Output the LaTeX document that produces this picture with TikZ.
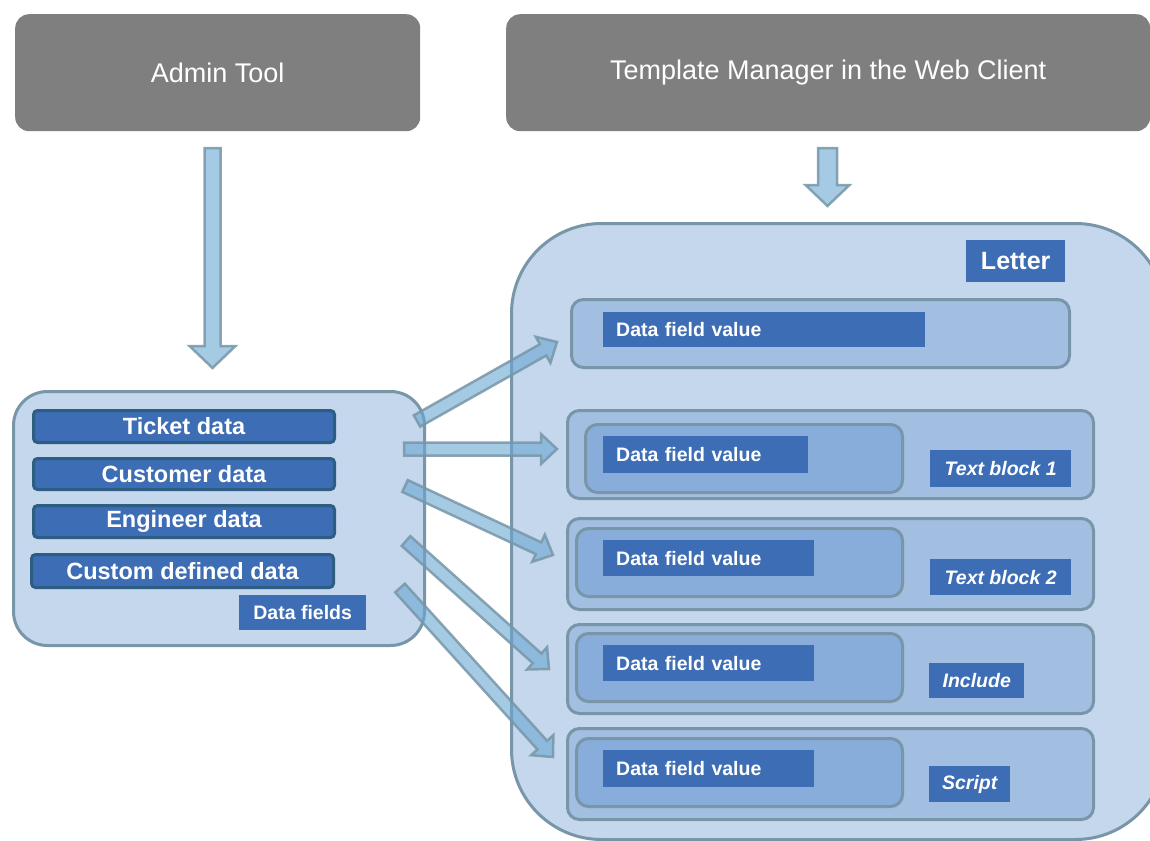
\documentclass[tikz,border=0pt]{standalone}
\usepackage{fontspec}
\setmainfont{Liberation Sans}
\usetikzlibrary{calc}

\definecolor{toolgray}{HTML}{7F7F7F}
\definecolor{panelblue}{HTML}{C5D7EC}
\definecolor{rowblue}{HTML}{A2BEE1}
\definecolor{cellblue}{HTML}{88ADDA}
\definecolor{barblue}{HTML}{3D6DB5}
\definecolor{baredge}{HTML}{2D5D82}
\definecolor{edgeslate}{HTML}{7896A8}
\definecolor{arrowblue}{HTML}{69A7D2}

% block arrow: tail, tip, half shaft, half head, head length
\newcommand{\fatarrow}[5]{%
  \coordinate (fa-base) at ($(#2)!#5!(#1)$);
  \draw[flowarrow] ($(#1)!#3!90:(#2)$) -- ($(fa-base)!#3!90:(#2)$) -- ($(fa-base)!#4!90:(#2)$)
    -- (#2) -- ($(fa-base)!#4!-90:(#2)$) -- ($(fa-base)!#3!-90:(#2)$) -- ($(#1)!#3!-90:(#2)$) -- cycle;
}

\begin{document}
\begin{tikzpicture}[
      x=1pt, y=-1pt,
      tool/.style={fill=toolgray, rounded corners=14pt, text=white, font=\fontsize{27}{32}\selectfont, anchor=north west, inner sep=0pt},
      panel/.style={draw=edgeslate, line width=3pt, fill=panelblue, anchor=north west, inner sep=0pt},
      row/.style={draw=edgeslate, line width=3pt, fill=rowblue, rounded corners=12pt, anchor=north west, minimum width=526pt, inner sep=0pt},
      cell/.style={draw=edgeslate, line width=3pt, fill=cellblue, rounded corners=12pt, anchor=north west, minimum height=68pt, inner sep=0pt},
      databar/.style={draw=baredge, line width=3pt, fill=barblue, rounded corners=4pt, text=white, font=\bfseries\fontsize{23.5}{27}\selectfont, minimum width=301pt, minimum height=32pt, anchor=north west, inner sep=0pt},
      tag/.style={fill=barblue, text=white, font=\bfseries\fontsize{19.5}{23}\selectfont, anchor=north west, inner sep=0pt},
      dfv/.style={tag, text width=#1, align=left, inner xsep=13pt, minimum height=36pt},
      kind/.style={tag, font=\bfseries\itshape\fontsize{19.5}{23}\selectfont, minimum height=36pt},
      flowarrow/.style={draw=edgeslate, line width=2.5pt, fill=arrowblue, fill opacity=0.6, draw opacity=0.85, line join=miter}
  ]
      \useasboundingbox (0,0) rectangle (1150,840);
      \clip (0,0) rectangle (1150,840);

      % Sources
      \node[tool, minimum width=405pt, minimum height=117pt] (admin) at (15,14) {Admin Tool};
      \node[tool, minimum width=644pt, minimum height=117pt] (tmpl) at (506,14) {Template Manager in the Web Client};

      % Data fields
      \node[panel, rounded corners=34pt, minimum width=411pt, minimum height=254pt] (fields) at (12,390) {};
      \node[databar] (ticket) at (32,409) {Ticket data};
      \node[databar, minimum height=31pt] (customer) at (32,457) {Customer data};
      \node[databar] (engineer) at (32,504) {Engineer data};
      \node[databar, minimum width=302pt, minimum height=33pt] (custom) at (30,553) {Custom defined data};
      \node[tag, minimum width=127pt, minimum height=35pt] (fieldtag) at (239,595) {Data fields};

      % Letter
      \node[panel, rounded corners=90pt, minimum width=654pt, minimum height=616pt] (letter) at (510,222) {};
      \node[tag, font=\bfseries\fontsize{25}{30}\selectfont, minimum width=99pt, minimum height=42pt] (lettertag) at (966,240) {Letter};

      \node[row, minimum width=498pt, minimum height=68pt] (row1) at (570,298) {};
      \node[row, minimum height=88pt] (row2) at (566,409) {};
      \node[row, minimum height=91pt] (row3) at (566,517) {};
      \node[row, minimum height=89pt] (row4) at (566,623) {};
      \node[row, minimum height=91pt] (row5) at (566,727) {};

      \node[cell, minimum width=317pt] (cell2) at (584,423) {};
      \node[cell, minimum width=326pt] (cell3) at (575,527) {};
      \node[cell, minimum width=326pt] (cell4) at (575,632) {};
      \node[cell, minimum width=326pt] (cell5) at (575,737) {};

      \node[dfv=296pt, minimum height=35pt] (val1) at (603,312) {Data field value};
      \node[dfv=179pt, minimum height=37pt] (val2) at (603,436) {Data field value};
      \node[dfv=185pt] (val3) at (603,540) {Data field value};
      \node[dfv=185pt] (val4) at (603,645) {Data field value};
      \node[dfv=185pt, minimum height=37pt] (val5) at (603,750) {Data field value};

      \node[kind, minimum width=141pt, minimum height=37pt] (block1) at (930,450) {Text block 1};
      \node[kind, minimum width=141pt] (block2) at (930,559) {Text block 2};
      \node[kind, minimum width=95pt, minimum height=35pt] (incl) at (929,663) {Include};
      \node[kind, minimum width=81pt] (scr) at (929,766) {Script};

      % Arrows
      \coordinate (admin-out) at (212.5,148);
      \coordinate (fields-in) at (212.5,368);
      \coordinate (tmpl-out) at (827.5,148);
      \coordinate (letter-in) at (827.5,206);
      \fatarrow{admin-out}{fields-in}{8pt}{23pt}{22pt}
      \fatarrow{tmpl-out}{letter-in}{9.5pt}{22pt}{21pt}

      \coordinate (f1) at (417,421);  \coordinate (r1) at (557,342);
      \coordinate (f2) at (404,449);  \coordinate (r2) at (557,449);
      \coordinate (f3) at (405,486);  \coordinate (r3) at (553,555);
      \coordinate (f4) at (406,541);  \coordinate (r4) at (549,669);
      \coordinate (f5) at (400,588);  \coordinate (r5) at (553,757);
      \foreach \i in {1,...,5} {
          \fatarrow{f\i}{r\i}{6.5pt}{15pt}{16pt}
      }

\end{tikzpicture}
\end{document}
